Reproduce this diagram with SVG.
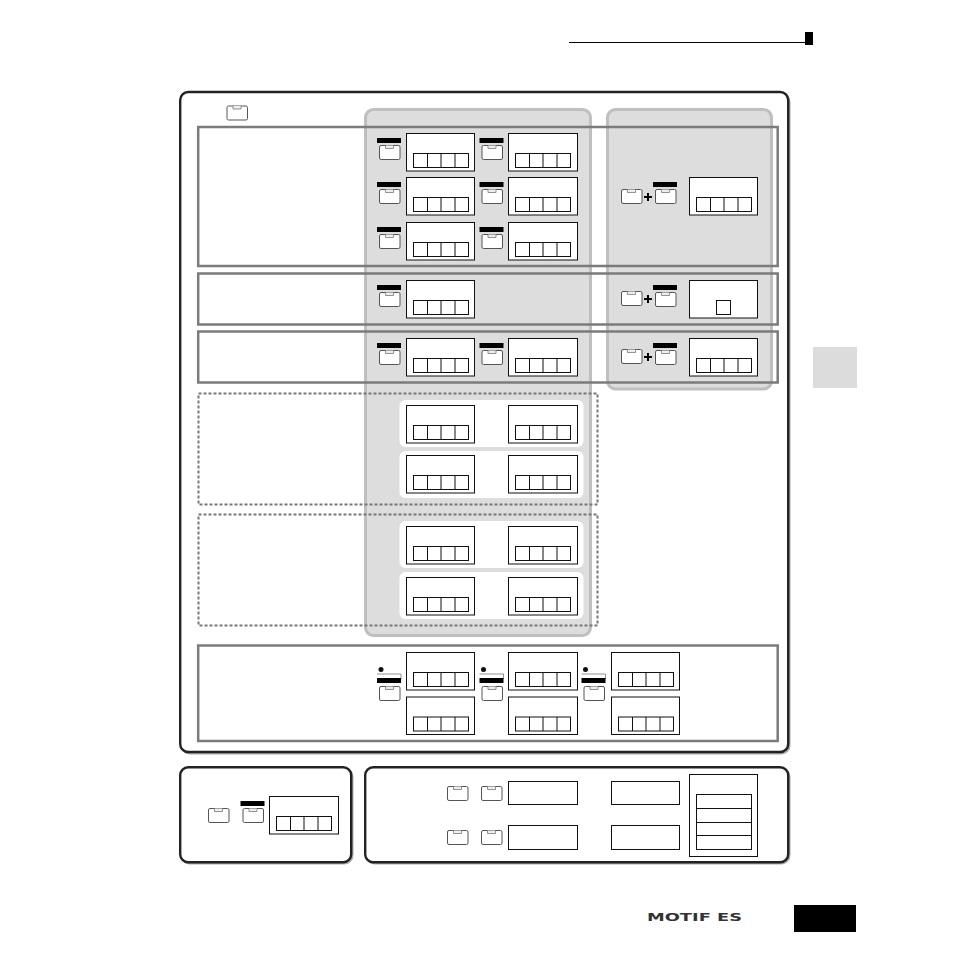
<svg xmlns="http://www.w3.org/2000/svg" width="954" height="954" viewBox="0 0 954 954">
<style>
.box{fill:#fff;stroke:#111;stroke-width:1}
.cell{fill:#fff;stroke:#111;stroke-width:1}
.pad{fill:#ddd;stroke:#bfbfbf;stroke-width:3}
.frame{fill:none;stroke:#7b7b7b;stroke-width:2.5}
.dash{fill:none;stroke:#777;stroke-width:2;stroke-dasharray:3 2}
.outer{fill:#fff;stroke:#222;stroke-width:2.4}
.shade{fill:none;stroke:#aaa;stroke-width:2}
.well{fill:#fff}
.key{fill:#fff;stroke:#555;stroke-width:1}
.tab{fill:#eee;stroke:#777;stroke-width:.8}
.plus{stroke:#000;stroke-width:2}
</style>
<defs>
<!-- panel button with its small lamp tab -->
<g id="button">
<rect class="key" x="0.5" y="0.5" width="20.5" height="14" rx="1.5"/>
<path class="tab" d="M6.5 .5V3.5H14.5V.5"/>
</g>
<!-- black label bar above a button -->
<g id="barkey">
<rect x="-2" y="-7" width="24" height="5" fill="#000"/>
<use href="#button"/>
</g>
<!-- bar with record lamp and bracket above a button -->
<g id="reckey">
<circle cx="4" cy="-16.5" r="2.5" fill="#111"/>
<path d="M0 -12H24V-7" fill="none" stroke="#777" stroke-width=".8"/>
<rect x="0" y="-8" width="24" height="5" fill="#000"/>
<use href="#button" x="2"/>
</g>
<!-- four-cell row shared by the displays -->
<g id="cells">
<rect class="cell" x="7" y="20" width="55" height="14"/>
<path class="cell" d="M21 20V34M34.5 20V34M48.5 20V34"/>
</g>
<!-- display with a row of four cells -->
<g id="lcd">
<rect class="box" x="0" y="0" width="68" height="37.5"/>
<use href="#cells"/>
</g>
<!-- same display, one pixel wider -->
<g id="lcdw">
<rect class="box" x="0" y="0" width="69" height="37.5"/>
<use href="#cells"/>
</g>
</defs>

<!-- page header and footer -->
<g id="header">
<path d="M569 42.5H806" stroke="#000" stroke-width="1.2"/>
<rect x="805" y="32" width="8" height="13" fill="#000"/>
</g>
<g id="side-tab"><rect x="813" y="347" width="44" height="41" fill="#dcdcdc"/></g>
<g id="footer">
<text x="647" y="921" font-family="'DejaVu Sans',sans-serif" font-weight="700" font-size="11" textLength="95" lengthAdjust="spacingAndGlyphs" fill="#333">MOTIF ES</text>
<rect x="794" y="905" width="62" height="27" fill="#000"/>
</g>

<!-- main panel -->
<g id="main-panel">
<rect class="shade" x="181.5" y="93.5" width="608" height="660" rx="8"/>
<rect class="outer" x="180.2" y="92" width="608" height="660" rx="8"/>
<use href="#button" x="226.5" y="105.5"/>
<rect class="pad" x="365.5" y="109.5" width="225" height="526" rx="8"/>
<rect class="pad" x="607.5" y="109.5" width="164" height="279.5" rx="8"/>
</g>

<!-- function sections -->
<g id="section-a">
<use href="#barkey" x="379" y="145"/><use href="#lcd" x="406.5" y="133.5"/>
<use href="#barkey" x="481.5" y="145"/><use href="#lcdw" x="508.5" y="133.5"/>
<use href="#barkey" x="379" y="189"/><use href="#lcd" x="406.5" y="177.5"/>
<use href="#barkey" x="481.5" y="189"/><use href="#lcdw" x="508.5" y="177.5"/>
<use href="#barkey" x="379" y="234"/><use href="#lcd" x="406.5" y="222.5"/>
<use href="#barkey" x="481.5" y="234"/><use href="#lcdw" x="508.5" y="222.5"/>
<use href="#button" x="621" y="189"/><path class="plus" d="M644 197H652M648 193V201"/>
<use href="#barkey" x="655" y="189"/><use href="#lcd" x="689.5" y="177.5"/>
<rect class="frame" x="198.2" y="127" width="579.5" height="139"/>
</g>
<g id="section-b">
<use href="#barkey" x="379" y="292"/><use href="#lcd" x="406.5" y="280.5"/>
<use href="#button" x="621" y="291"/><path class="plus" d="M644 299H652M648 295V303"/>
<use href="#barkey" x="655" y="292"/>
<rect class="box" x="689.5" y="280.5" width="68" height="37.5"/>
<rect class="cell" x="716.5" y="300.5" width="14" height="14"/>
<rect class="frame" x="198.2" y="273.5" width="579.5" height="51"/>
</g>
<g id="section-c">
<use href="#barkey" x="379" y="350"/><use href="#lcd" x="406.5" y="338.5"/>
<use href="#barkey" x="481.5" y="350"/><use href="#lcdw" x="508.5" y="338.5"/>
<use href="#button" x="621" y="349"/><path class="plus" d="M644 357H652M648 353V361"/>
<use href="#barkey" x="655" y="350"/><use href="#lcd" x="689.5" y="338.5"/>
<rect class="frame" x="198.2" y="331.5" width="579.5" height="51"/>
</g>
<g id="section-d">
<rect class="well" x="399.5" y="400" width="184" height="47" rx="6"/>
<rect class="well" x="399.5" y="451" width="184" height="47" rx="6"/>
<use href="#lcd" x="406.5" y="405.5"/><use href="#lcdw" x="508.5" y="405.5"/>
<use href="#lcd" x="406.5" y="455.5"/><use href="#lcdw" x="508.5" y="455.5"/>
<rect class="dash" x="198.5" y="393.5" width="399" height="111"/>
</g>
<g id="section-e">
<rect class="well" x="399.5" y="521" width="184" height="47" rx="6"/>
<rect class="well" x="399.5" y="572" width="184" height="47" rx="6"/>
<use href="#lcd" x="406.5" y="526.5"/><use href="#lcdw" x="508.5" y="526.5"/>
<use href="#lcd" x="406.5" y="577.5"/><use href="#lcdw" x="508.5" y="577.5"/>
<rect class="dash" x="198.5" y="514.5" width="399" height="111"/>
</g>
<g id="section-f">
<use href="#reckey" x="377" y="686"/><use href="#lcd" x="406.5" y="652.5"/><use href="#lcd" x="406.5" y="697"/>
<use href="#reckey" x="479.5" y="686"/><use href="#lcdw" x="508.5" y="652.5"/><use href="#lcdw" x="508.5" y="697"/>
<use href="#reckey" x="581.5" y="686"/><use href="#lcd" x="611.5" y="652.5"/><use href="#lcd" x="611.5" y="697"/>
<rect class="frame" x="198.2" y="645.5" width="579.5" height="95.5"/>
</g>

<!-- lower left panel -->
<g id="lower-left">
<rect class="shade" x="181.5" y="768.5" width="171" height="95" rx="8"/>
<rect class="outer" x="180.2" y="767.2" width="171" height="95" rx="8"/>
<use href="#button" x="208" y="808"/>
<use href="#barkey" x="242.5" y="808"/>
<use href="#lcdw" x="269.5" y="796.5"/>
</g>

<!-- lower right panel -->
<g id="lower-right">
<rect class="shade" x="366.5" y="768.5" width="423" height="95" rx="8"/>
<rect class="outer" x="365.2" y="767.2" width="423" height="95" rx="8"/>
<use href="#button" x="447" y="786"/><use href="#button" x="481" y="786"/>
<use href="#button" x="447" y="830"/><use href="#button" x="481" y="830"/>
<rect class="box" x="508.5" y="781.5" width="69" height="23"/>
<rect class="box" x="611.5" y="781.5" width="68" height="23"/>
<rect class="box" x="508.5" y="825.5" width="69" height="24"/>
<rect class="box" x="611.5" y="825.5" width="68" height="24"/>
<rect class="box" x="689.5" y="774.5" width="68" height="82"/>
<rect class="cell" x="696.5" y="794.5" width="55" height="55"/>
<path class="cell" d="M696.5 808.5H751.5M696.5 822.5H751.5M696.5 835.5H751.5"/>
</g>
</svg>
